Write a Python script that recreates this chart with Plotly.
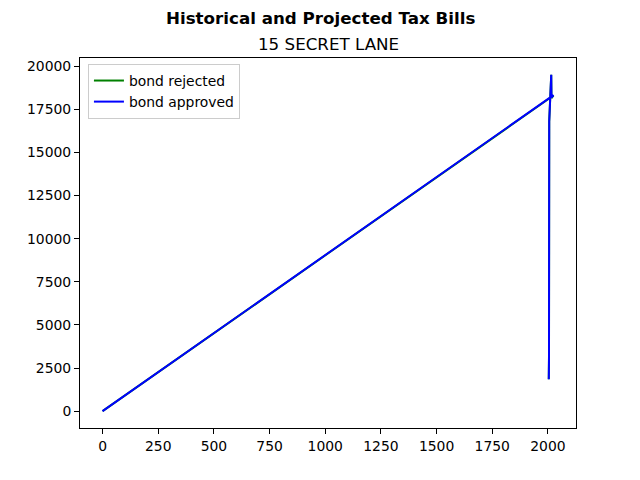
import plotly.graph_objects as go

# tax bill history + projections (year, bill); the trailing 0 entry is in the source data
years_rejected = [2004, 2005, 2006, 2007, 2008, 2009, 2010, 2011, 2012, 2013, 2014, 2015,
                  2016, 2017, 2018, 2019, 2020, 2021, 2022, 2023, 2024, 2025, 0]
bills_rejected = [1850, 3150, 16800, 17100, 17400, 17700, 18000, 18300, 18600, 18900, 19200, 19500,
                  18150, 18170, 18190, 18210, 18230, 18250, 18260, 18270, 18280, 18300, 0]

years_approved = [2004, 2005, 2006, 2007, 2008, 2009, 2010, 2011, 2012, 2013, 2014, 2015,
                  2016, 2017, 2018, 2019, 2020, 2021, 2022, 2023, 2024, 2025, 0]
bills_approved = [1850, 3150, 16800, 17100, 17400, 17700, 18000, 18300, 18600, 18900, 19200, 19500,
                  18180, 18200, 18220, 18240, 18260, 18280, 18290, 18300, 18310, 18320, 0]

x_ticks = [0, 250, 500, 750, 1000, 1250, 1500, 1750, 2000]
y_ticks = [0, 2500, 5000, 7500, 10000, 12500, 15000, 17500, 20000]

FONT = "DejaVu Sans"

fig = go.Figure()
fig.add_trace(go.Scatter(x=years_rejected, y=bills_rejected, mode="lines",
                         name="bond rejected", line=dict(color="#008000", width=2)))
fig.add_trace(go.Scatter(x=years_approved, y=bills_approved, mode="lines",
                         name="bond approved", line=dict(color="#0000ff", width=2)))

xmax = max(years_approved)
ymax = max(bills_approved + bills_rejected)

# page has an 8px body margin, so the figure is drawn 8px smaller
PLOT_H = 370
fig.update_layout(
    width=632, height=472,
    margin=dict(l=72, r=64, t=50, b=52),
    plot_bgcolor="white", paper_bgcolor="white",
    font=dict(family=FONT, size=13.9, color="black"),
    showlegend=True,
    legend=dict(x=0.016, y=1 - 6 / PLOT_H, xanchor="left", yanchor="top",
                bgcolor="rgba(255,255,255,0.8)", bordercolor="#cccccc", borderwidth=1,
                font=dict(size=13.9), itemwidth=30, tracegroupgap=0),
    annotations=[
        dict(text="<b>Historical and Projected Tax Bills</b>", xref="paper", yref="paper",
             x=240 / 496, y=1 + 40 / PLOT_H, xanchor="center", yanchor="middle",
             showarrow=False, font=dict(size=16.7)),
        dict(text="15 SECRET LANE", xref="paper", yref="paper",
             x=0.5, y=1 + 14 / PLOT_H, xanchor="center", yanchor="middle",
             showarrow=False, font=dict(size=16.7)),
    ],
)
fig.update_xaxes(range=[-0.05 * xmax, 1.05 * xmax], tickvals=x_ticks, ticks="outside",
                 ticklen=5, tickcolor="black", showline=True, linecolor="black", linewidth=1,
                 mirror=True, showgrid=False, zeroline=False)
fig.update_yaxes(range=[-0.05 * ymax, 1.05 * ymax], tickvals=y_ticks,
                 ticktext=[str(v) for v in y_ticks], ticks="outside",
                 ticklen=5, tickcolor="black", showline=True, linecolor="black", linewidth=1,
                 mirror=True, showgrid=False, zeroline=False)

fig.write_html("out.html")
